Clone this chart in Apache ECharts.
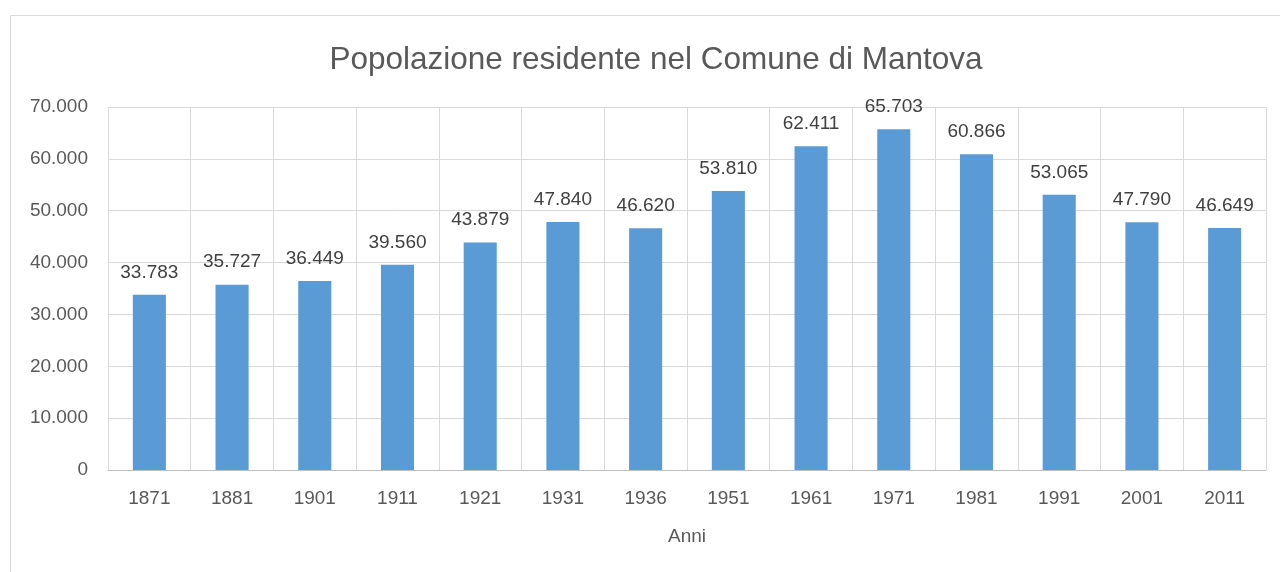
<!DOCTYPE html>
<html>
<head>
<meta charset="utf-8">
<script src="https://cdn.jsdelivr.net/npm/echarts@6/dist/echarts.min.js"></script>
<style>
  html, body { margin: 0; padding: 0; background: #fff; }
  #chart { width: 1280px; height: 572px; }
</style>
</head>
<body>
<div id="chart"></div>
<script>
var anni = ['1871', '1881', '1901', '1911', '1921', '1931', '1936', '1951', '1961', '1971', '1981', '1991', '2001', '2011'];
var residenti = [33783, 35727, 36449, 39560, 43879, 47840, 46620, 53810, 62411, 65703, 60866, 53065, 47790, 46649];

// separatore migliaia con il punto
function fmt(v) {
    return String(v).replace(/\B(?=(\d{3})+(?!\d))/g, '.');
}

var font = 'Liberation Sans';
var myChart = echarts.init(document.getElementById('chart'));
myChart.setOption({
    animation: false,
    textStyle: {fontFamily: font},
    graphic: [{
        type: 'rect',
        shape: {x: 10.5, y: 15.5, width: 1300, height: 600},
        style: {fill: 'none', stroke: '#d9d9d9', lineWidth: 1}
    }],
    title: {
        text: 'Popolazione residente nel Comune di Mantova',
        left: 651,
        textAlign: 'center',
        top: 39,
        textStyle: {fontFamily: font, fontSize: 31.5, fontWeight: 'normal', color: '#595959'}
    },
    grid: {left: 108, right: 14, top: 107, bottom: 102},
    xAxis: {
        type: 'category',
        data: anni,
        name: 'Anni',
        nameLocation: 'middle',
        nameGap: 57,
        nameTextStyle: {fontSize: 19, color: '#595959'},
        axisTick: {show: false},
        axisLine: {lineStyle: {color: '#bfbfbf'}},
        axisLabel: {fontSize: 19, color: '#595959', margin: 19},
        splitLine: {show: true, lineStyle: {color: '#d9d9d9'}}
    },
    yAxis: {
        type: 'value',
        min: 0,
        max: 70000,
        interval: 10000,
        axisLabel: {fontSize: 19, color: '#595959', margin: 20, formatter: fmt},
        splitLine: {lineStyle: {color: '#d9d9d9'}}
    },
    series: [{
        type: 'bar',
        data: residenti,
        barCategoryGap: '60%',
        itemStyle: {color: '#5b9bd5'},
        label: {
            show: true,
            position: 'top',
            distance: 13,
            fontSize: 19,
            color: '#404040',
            formatter: function (p) { return fmt(p.value); }
        }
    }]
});
</script>
</body>
</html>
